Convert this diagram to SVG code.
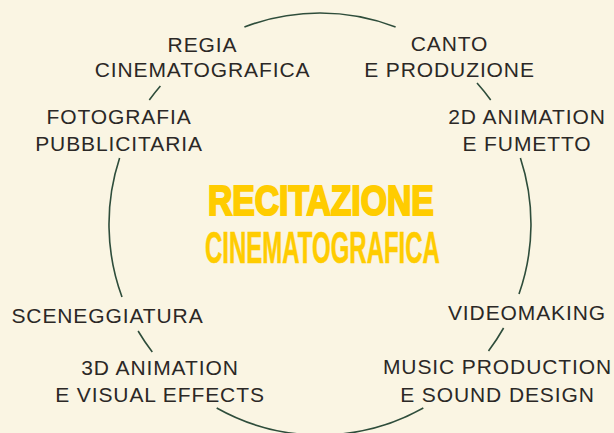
<svg xmlns="http://www.w3.org/2000/svg" width="614" height="433" viewBox="0 0 614 433">
<style>
.lbl{font-family:"Liberation Sans",Arial,sans-serif;font-size:21px;letter-spacing:0.9px;fill:#2b2826;text-anchor:middle}
.arc{fill:none;stroke:#2e4d3b;stroke-width:1.6}
.t1{font-family:"Liberation Sans",Arial,sans-serif;font-weight:bold;font-size:42px;fill:#ffcc00;stroke:#ffcc00;stroke-width:2.2}
.t2{font-family:"Liberation Sans",Arial,sans-serif;font-weight:bold;font-size:45px;fill:#ffcc00;stroke:#ffcc00;stroke-width:0.6}
</style>
<rect width="614" height="433" fill="#faf5e3"/>
<g id="connectors">
<path class="arc" d="M244.4,27 A211 211 0 0 1 395.6,27"/>
<path class="arc" d="M477,83 A211 211 0 0 1 490.7,100"/>
<path class="arc" d="M520.4,158 A211 211 0 0 1 519,294"/>
<path class="arc" d="M503.6,328 A211 211 0 0 1 488.5,351"/>
<path class="arc" d="M423.3,408 A211 211 0 0 1 216.7,408"/>
<path class="arc" d="M152.3,352 A211 211 0 0 1 138.1,331"/>
<path class="arc" d="M122,297 A211 211 0 0 1 119.6,158"/>
<path class="arc" d="M149.3,100 A211 211 0 0 1 160.4,86"/>
</g>
<g id="title">
<text class="t1" transform="translate(208,215) scale(0.802,1)">RECITAZIONE</text>
<text class="t2" transform="translate(205,263) scale(0.533,1)">CINEMATOGRAFICA</text>
</g>
<g id="regia"><text class="lbl" x="202.5" y="52">REGIA</text><text class="lbl" x="202.5" y="77">CINEMATOGRAFICA</text></g>
<g id="canto"><text class="lbl" x="449.5" y="51">CANTO</text><text class="lbl" x="449.5" y="77">E PRODUZIONE</text></g>
<g id="fotografia"><text class="lbl" x="119" y="124">FOTOGRAFIA</text><text class="lbl" x="119" y="151">PUBBLICITARIA</text></g>
<g id="animation2d"><text class="lbl" x="527" y="124">2D ANIMATION</text><text class="lbl" x="527" y="151">E FUMETTO</text></g>
<g id="sceneggiatura"><text class="lbl" x="107.5" y="323">SCENEGGIATURA</text></g>
<g id="videomaking"><text class="lbl" x="527" y="320">VIDEOMAKING</text></g>
<g id="animation3d"><text class="lbl" x="160" y="375">3D ANIMATION</text><text class="lbl" x="160" y="402">E VISUAL EFFECTS</text></g>
<g id="music"><text class="lbl" x="497.5" y="374">MUSIC PRODUCTION</text><text class="lbl" x="497.5" y="402">E SOUND DESIGN</text></g>
</svg>
